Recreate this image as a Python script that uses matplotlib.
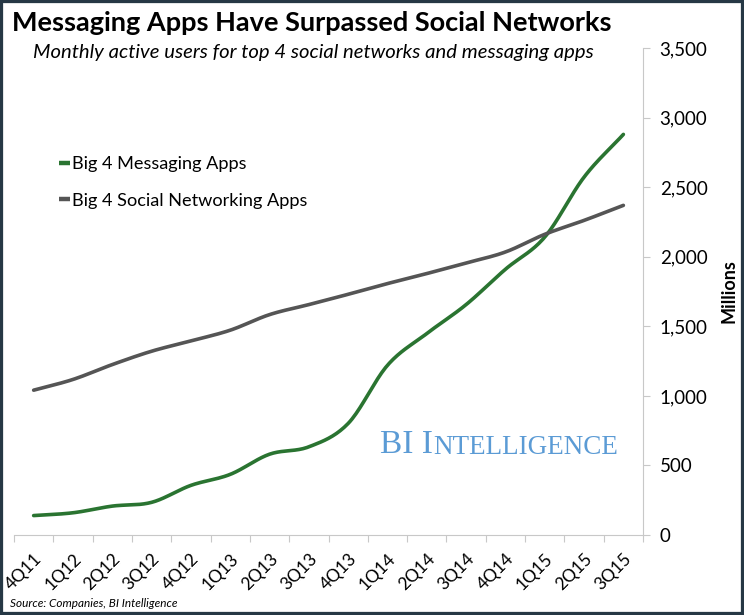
import matplotlib
matplotlib.use("Agg")
import matplotlib.pyplot as plt
from matplotlib.patches import Rectangle
import numpy as np

quarters = ["4Q11", "1Q12", "2Q12", "3Q12", "4Q12", "1Q13", "2Q13", "3Q13",
            "4Q13", "1Q14", "2Q14", "3Q14", "4Q14", "1Q15", "2Q15", "3Q15"]
messaging = [140, 160, 208, 235, 357, 436, 581, 634,
             802, 1220, 1448, 1656, 1910, 2141, 2572, 2879]
social = [1041, 1118, 1225, 1321, 1395, 1472, 1584, 1656,
          1730, 1807, 1879, 1955, 2034, 2161, 2261, 2369]
y_ticks = [0, 500, 1000, 1500, 2000, 2500, 3000, 3500]

plt.rcParams['font.family'] = ['Lato', 'DejaVu Sans']

green = "#2a7431"
grey = "#555555"


def smooth(xs, ys, n=20):
    # catmull-rom style smoothing like excel's "smoothed line"
    xs = np.asarray(xs, float)
    ys = np.asarray(ys, float)
    px = np.concatenate(([2 * xs[0] - xs[1]], xs, [2 * xs[-1] - xs[-2]]))
    py = np.concatenate(([2 * ys[0] - ys[1]], ys, [2 * ys[-1] - ys[-2]]))
    outx, outy = [], []
    t = np.linspace(0, 1, n, endpoint=False)
    for i in range(1, len(px) - 2):
        for p, out in ((px, outx), (py, outy)):
            p0, p1, p2, p3 = p[i - 1], p[i], p[i + 1], p[i + 2]
            out.extend(0.5 * ((2 * p1) + (-p0 + p2) * t
                              + (2 * p0 - 5 * p1 + 4 * p2 - p3) * t ** 2
                              + (-p0 + 3 * p1 - 3 * p2 + p3) * t ** 3))
    outx.append(xs[-1])
    outy.append(ys[-1])
    return outx, outy


fig = plt.figure(figsize=(7.44, 6.15), dpi=100)
ax = fig.add_axes([0.0188, 0.130, 0.8455, 0.792])

x = np.arange(len(quarters))
sx, sy = smooth(x, messaging)
ax.plot(sx, sy, color=green, lw=2.6, solid_capstyle="round", label="Big 4 Messaging Apps")
sx, sy = smooth(x, social)
ax.plot(sx, sy, color=grey, lw=2.6, solid_capstyle="round", label="Big 4 Social Networking Apps")

ax.set_xlim(-0.5, len(quarters) - 0.5)
ax.set_ylim(0, 3500)

ax.yaxis.tick_right()
ax.set_yticks(y_ticks)
ax.set_yticklabels(["{:,}".format(v) for v in y_ticks], fontsize=13.5)
ax.tick_params(axis="y", length=5, width=0.8, color="#c8c8c8", pad=7)
ax.yaxis.set_label_position("right")
ax.set_ylabel("Millions", fontsize=13, fontweight="bold", labelpad=9)

ax.set_xticks(np.arange(len(quarters) + 1) - 0.5)
ax.set_xticklabels([])
ax.tick_params(axis="x", which="major", length=5, width=0.8, color="#c8c8c8")
ax.set_xticks(x, minor=True)
ax.set_xticklabels(quarters, minor=True, rotation=45, ha="right",
                   rotation_mode="anchor", fontsize=12.5)
ax.tick_params(axis="x", which="minor", length=0, pad=11)

for s in ("top", "left"):
    ax.spines[s].set_visible(False)
for s in ("bottom", "right"):
    ax.spines[s].set_color("#c8c8c8")
    ax.spines[s].set_linewidth(0.8)

leg = ax.legend(loc="upper left", bbox_to_anchor=(0.045, 0.812), frameon=False,
                fontsize=13.1, handlelength=0.6, handletextpad=0.15, labelspacing=1.15)
for h in leg.get_lines():
    h.set_linewidth(3.2)
    h.set_solid_capstyle("butt")

fig.text(0.016, 0.962, "Messaging Apps Have Surpassed Social Networks",
         fontsize=19.5, fontweight="bold", va="center", ha="left")
fig.text(0.044, 0.914, "Monthly active users for top 4 social networks and messaging apps",
         fontsize=14.6, style="italic", va="center", ha="left")
fig.text(0.014, 0.019, "Source: Companies, BI Intelligence",
         fontsize=8.5, style="italic", va="center", ha="left")

# BI Intelligence watermark in small caps
t1 = ax.text(0.582, 0.168, "BI I", transform=ax.transAxes, fontsize=24,
             family="Liberation Serif", color="#5b9bd5", va="baseline")
ax.annotate("NTELLIGENCE", xy=(1, 0), xycoords=t1, fontsize=19.5,
            family="Liberation Serif", color="#5b9bd5", va="bottom")

fig.patches.append(Rectangle((0, 0), 1, 1, transform=fig.transFigure, fill=False,
                             edgecolor="#263845", lw=4.5, zorder=10))

fig.savefig("out.png", dpi=100)
